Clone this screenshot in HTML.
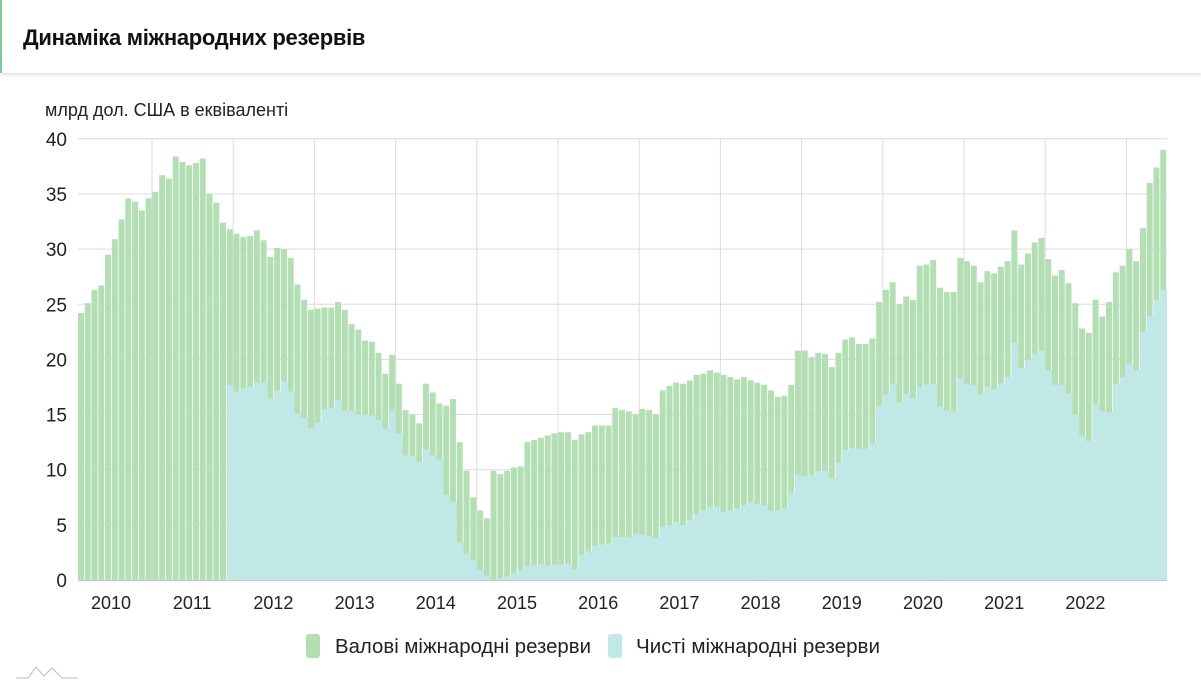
<!DOCTYPE html>
<html><head><meta charset="utf-8">
<style>
html,body{margin:0;padding:0;background:#fff;width:1201px;height:688px;overflow:hidden;font-family:"Liberation Sans",sans-serif;}
#hdr{position:absolute;left:0;top:0;width:1201px;height:73px;background:#fff;border-left:2px solid #7cc9a0;box-sizing:border-box;box-shadow:0 2px 3px rgba(0,0,0,0.12);}
#hdr span{position:absolute;left:21px;top:25px;font-size:22px;font-weight:bold;color:#111;letter-spacing:-0.3px;}
svg{position:absolute;left:0;top:0;}
</style></head><body>
<div id="hdr"><span>Динаміка міжнародних резервів</span></div>
<svg id="s" width="1201" height="688" xmlns="http://www.w3.org/2000/svg" font-family="Liberation Sans, sans-serif">
<text x="45" y="116" font-size="18" fill="#222">млрд дол. США в еквіваленті</text>
<g id="grid" stroke="#dcdcdc" stroke-width="1"></g>
<g id="bars"></g>
<g id="labels" font-size="18" fill="#222"></g>
<rect x="306" y="634" width="14" height="24" rx="3" fill="#b4dfb4"/>
<text x="335" y="653" font-size="20" fill="#222" textLength="256" lengthAdjust="spacingAndGlyphs">Валові міжнародні резерви</text>
<rect x="608" y="634" width="14" height="24" rx="3" fill="#bfe8e7"/>
<text x="636" y="653" font-size="20" fill="#222" textLength="244" lengthAdjust="spacingAndGlyphs">Чисті міжнародні резерви</text>
<path d="M16 678 L28 678 L36 667 L44 676 L52 668 L62 678 L78 678" fill="none" stroke="#bbb" stroke-width="1"/>
</svg>
<script>
var G=[24.2,25.1,26.3,26.7,29.5,30.9,32.7,34.6,34.3,33.5,34.6,35.2,36.7,36.4,38.4,37.9,37.6,37.8,38.2,35.0,34.2,32.4,31.8,31.4,31.1,31.2,31.7,30.8,29.3,30.1,30.0,29.2,26.8,25.4,24.5,24.6,24.7,24.7,25.2,
24.5,23.2,22.7,21.7,21.6,20.6,18.7,20.4,17.8,15.4,15.0,14.2,17.8,17.0,16.0,15.8,16.4,12.5,9.9,7.5,6.3,5.6,9.9,9.6,9.9,10.2,10.3,12.5,12.7,12.9,13.1,13.3,13.4,13.4,12.7,13.2,13.4,14.0,14.0,14.0,15.6,15.4,
15.3,15.0,15.5,15.4,15.0,17.2,17.6,17.9,17.8,18.1,18.6,18.7,19.0,18.8,18.6,18.4,18.2,18.4,18.1,17.9,17.7,17.2,16.6,16.7,17.7,20.8,20.8,20.2,20.6,20.5,19.3,20.6,21.8,22.0,21.4,21.4,21.9,25.2,26.3,27.0,25.0,25.7,25.4,28.5,
28.6,29.0,26.5,26.1,26.1,
29.2,28.9,28.5,27.0,28.0,27.8,28.4,28.9,31.7,28.6,29.6,30.6,31.0,29.1,27.6,28.1,26.9,25.1,22.8,22.4,25.4,23.9,25.2,27.9,28.5,30.0,28.9,31.9,36.0,37.4,39.0];
var N=[17.7,17.1,17.4,17.5,17.9,17.9,16.5,17.2,18.0,17.1,15.1,14.7,13.8,14.3,15.5,15.6,16.3,
15.4,15.3,15.0,15.0,14.9,14.5,13.7,15.3,13.3,11.3,11.2,10.7,11.8,11.3,10.9,7.7,7.1,3.4,2.4,1.8,0.9,0.3,0,0.15,0.3,0.6,0.9,1.3,1.4,1.4,1.3,1.4,1.4,1.5,1.0,2.3,2.6,3.1,3.2,3.3,3.9,3.9,
3.9,4.2,4.1,4.0,3.8,4.8,5.0,5.3,5.0,5.4,6.0,6.3,6.6,6.7,6.2,6.3,6.5,6.8,7.1,6.9,6.8,6.3,6.3,6.5,7.9,9.5,9.4,9.5,9.9,9.9,9.2,10.6,11.8,12.0,11.9,11.9,12.4,15.8,16.8,17.8,16.1,16.9,16.5,17.5,
17.7,17.8,15.7,15.4,15.3,
18.3,17.8,17.7,16.8,17.5,17.3,17.8,18.4,21.5,19.2,19.9,20.5,20.8,19.0,17.7,17.7,16.9,15.0,13.1,12.6,16.0,15.3,15.2,17.8,18.4,19.6,19.0,22.5,23.9,25.4,26.3];
var ns="http://www.w3.org/2000/svg";
function el(t,a,p){var e=document.createElementNS(ns,t);for(var k in a)e.setAttribute(k,a[k]);p.appendChild(e);return e;}
var x0=78,x1=1167,y0=580,sc=11.03;
var grid=document.getElementById('grid'),bars=document.getElementById('bars'),lab=document.getElementById('labels');
for(var v=0;v<=40;v+=5){var y=y0-v*sc;el('line',{x1:x0,x2:x1,y1:y,y2:y},grid);var t=el('text',{x:67,y:y+7,'text-anchor':'end','font-size':19},lab);t.textContent=v;}
for(var k=0;k<13;k++){var x=152+81.2*k;el('line',{x1:x,x2:x,y1:139,y2:580},grid);}
for(var k=0;k<13;k++){var t=el('text',{x:111+81.2*k,y:609,'text-anchor':'middle'},lab);t.textContent=2010+k;}
var n=G.length,w=(x1-x0)/n,off=n-N.length;
for(var i=0;i<n;i++){var x=x0+i*w;var h=G[i]*sc;el('rect',{x:x,y:y0-h,width:w-0.8,height:h,fill:'#b4dfb4'},bars);
 if(i>=off){var nv=N[i-off];if(nv>0){var hn=nv*sc;el('rect',{x:x,y:y0-hn,width:w,height:hn,fill:'#bfe8e7'},bars);}}}
el('line',{x1:x0,x2:x1,y1:580.5,y2:580.5,stroke:'#c8c8c8'},bars);
</script>
</body></html>
